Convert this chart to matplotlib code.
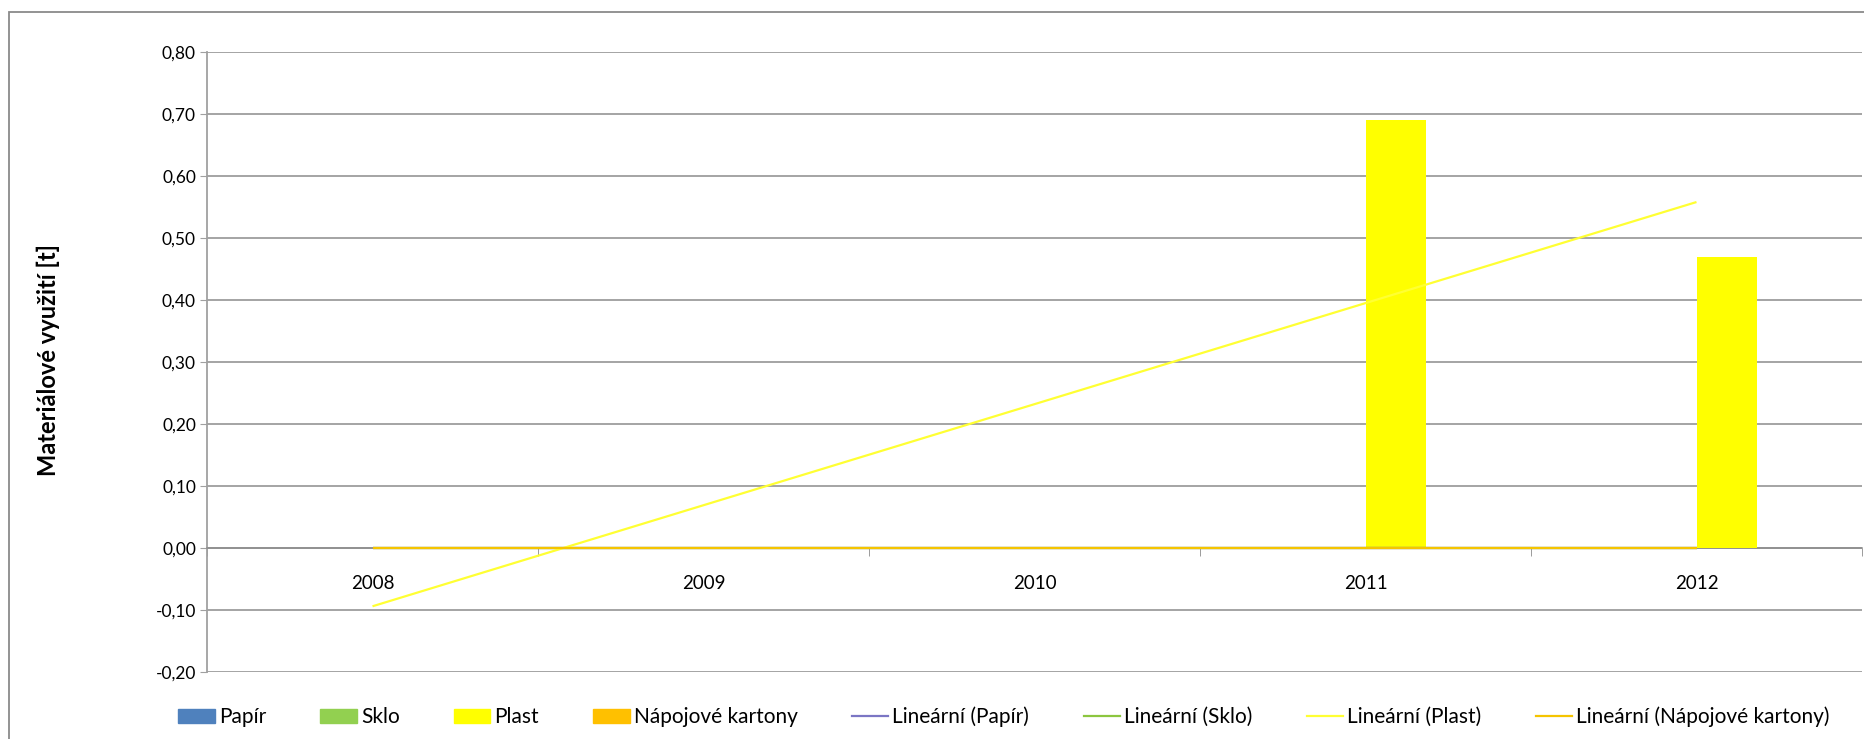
import matplotlib
matplotlib.use('Agg')
import matplotlib.pyplot as plt
from matplotlib.patches import Rectangle
from matplotlib.lines import Line2D
from matplotlib.ticker import FuncFormatter, FixedLocator
import numpy as np

# data
years = ['2008', '2009', '2010', '2011', '2012']
papir = [0.0, 0.0, 0.0, 0.0, 0.0]
sklo = [0.0, 0.0, 0.0, 0.0, 0.0]
plast = [0.0, 0.0, 0.0, 0.69, 0.47]
kartony = [0.0, 0.0, 0.0, 0.0, 0.0]
series_names = ['Papír', 'Sklo', 'Plast', 'Nápojové kartony']
y_ticks = [-0.2, -0.1, 0.0, 0.1, 0.2, 0.3, 0.4, 0.5, 0.6, 0.7, 0.8]

bar_colors = ['#4F81BD', '#92D050', '#FFFF00', '#FFC000']
trend_colors = ['#7B76C4', '#8CC63F', '#FFFF33', '#F5C400']
grid_color = '#8C8C8C'

plt.rcParams['font.family'] = ['Lato', 'DejaVu Sans']

fig = plt.figure(figsize=(18.65, 7.39), dpi=100)
ax = fig.add_axes([207 / 1865, 1 - 672 / 739, (1862 - 207) / 1865, (672 - 52) / 739])

# outer chart frame
fig.patches.append(Rectangle((9 / 1865, -0.05), 1.2, 1.05 - 12 / 739,
                             transform=fig.transFigure, fill=False,
                             edgecolor='#8A8A8A', lw=1.3, zorder=0))

x = np.arange(len(years))
all_series = [papir, sklo, plast, kartony]
n = len(all_series)
w = 1 / (n + 1.5)  # Excel gap width 150 %

for i, (vals, col) in enumerate(zip(all_series, bar_colors)):
    ax.bar(x + (i - (n - 1) / 2) * w, vals, width=w, color=col, zorder=3)

# linear trend lines
for vals, col in zip(all_series, trend_colors):
    k, q = np.polyfit(x, vals, 1)
    ax.plot([x[0], x[-1]], [q + k * x[0], q + k * x[-1]], color=col, lw=1.6,
            zorder=4, solid_capstyle='butt')

ax.set_xlim(-0.5, len(years) - 0.5)
ax.set_ylim(-0.2, 0.8)
ax.yaxis.set_major_locator(FixedLocator(y_ticks))
ax.yaxis.set_major_formatter(FuncFormatter(lambda v, p: f"{v:.2f}".replace('.', ',')))
ax.grid(axis='y', color=grid_color, lw=1.1, zorder=0)
ax.set_axisbelow(True)

for s in ['top', 'right']:
    ax.spines[s].set_visible(False)
ax.spines['left'].set_color('#A0A0A0')
ax.spines['left'].set_linewidth(1.3)
ax.spines['bottom'].set_position(('data', 0))
ax.spines['bottom'].set_color(grid_color)
ax.spines['bottom'].set_linewidth(1.1)

# category labels sit below the zero axis, ticks between categories
ax.set_xticks([])
ax.set_xticks(np.arange(len(years) + 1) - 0.5, minor=True)
ax.tick_params(axis='x', which='minor', length=6, color=grid_color, direction='out')
ax.tick_params(axis='y', length=5, color='#A0A0A0', labelsize=12.5, pad=3)
for xi, lab in zip(x, years):
    ax.text(xi, -0.058, lab, ha='center', va='center', fontsize=13.5)

fig.text(48 / 1865, 1 - 360 / 739, 'Materiálové využití [t]', rotation=90,
         ha='center', va='center', fontsize=17, fontweight='bold')

handles = [Rectangle((0, 0), 1, 1, color=c) for c in bar_colors]
handles += [Line2D([], [], color=c, lw=1.6) for c in trend_colors]
labels = series_names + [f'Lineární ({s})' for s in series_names]
fig.legend(handles, labels, loc='center', ncol=8, frameon=False,
           bbox_to_anchor=(1004 / 1865, 1 - 717 / 739), fontsize=15,
           handlelength=1.75, handleheight=0.6, handletextpad=0.2,
           columnspacing=2.6)

fig.savefig('out.png', dpi=100)
